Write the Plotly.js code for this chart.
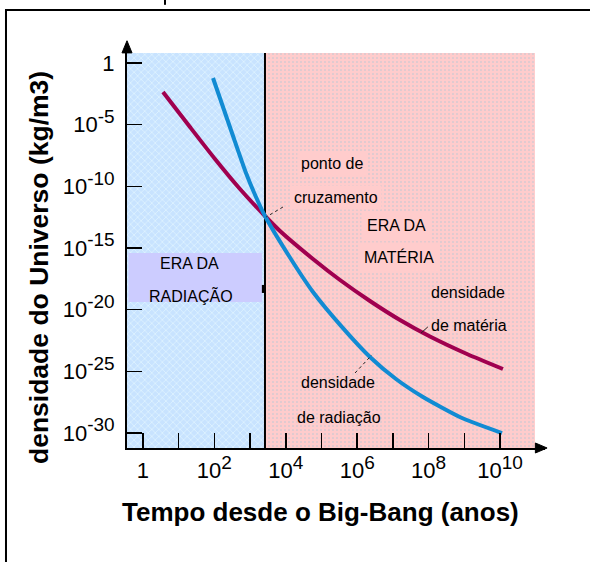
<!DOCTYPE html>
<html>
<head>
<meta charset="utf-8">
<script src="https://cdn.plot.ly/plotly-3.0.1.min.js"></script>
<style>html,body{margin:0;padding:0;background:#fff;}#chart{width:590px;height:562px;}</style>
</head>
<body>
<div id="chart"></div>
<script>
// ---- data ----
var matterTime    = [3.63, 20.7, 104, 521, 2615, 6880, 5.78e4, 3.30e5, 2.28e6, 1.58e7, 1.094e8, 1.19e9, 1.21e10];
var matterDensity = [4.45e-3, 6.45e-6, 1.64e-8, 6.04e-11, 3.90e-13, 2.37e-14, 1.27e-16, 2.52e-18, 4.98e-20, 1.43e-21, 6.57e-23, 2.51e-24, 1.52e-25];
var radTime       = [91.4, 311, 768, 1463, 2615, 1.23e4, 5.78e4, 3.52e5, 2.28e6, 1.22e7, 6.97e7, 8.62e8, 1.14e10];
var radDensity    = [6.07e-2, 2.10e-6, 1.20e-9, 1.36e-11, 3.90e-13, 2.22e-16, 2.67e-19, 4.76e-22, 1.43e-24, 2.35e-26, 8.15e-28, 1.61e-29, 9.8e-31];

var xTickVals  = [1, 1e2, 1e4, 1e6, 1e8, 1e10];
var xMinorVals = [1e1, 1e3, 1e5, 1e7, 1e9];
var xTickText  = ['1', '2', '4', '6', '8', '10'];
var yTickVals  = [1, 1e-5, 1e-10, 1e-15, 1e-20, 1e-25, 1e-30];
var yTickText  = ['1', '-5', '-10', '-15', '-20', '-25', '-30'];

// era boundaries (years / kg m^-3)
var eraBoundary = 2615;
var regionLeft = Math.pow(10, -0.448);
var regionRight = Math.pow(10, 10.98);
var regionTop = Math.pow(10, 0.81);
var regionBottom = Math.pow(10, -31.224);

function powLabel(exp){
  if (exp === '1') return '1';
  return '10<sup><span style="font-size:19px">' + exp + '</span></sup>';
}

var tickFont = {family: 'Liberation Sans Narrow, Arial Narrow, Liberation Sans, sans-serif', size: 22, color: '#000'};
var labelFont = {family: 'Liberation Sans, Arial, sans-serif', size: 16, color: '#000'};
var titleFontY = {family: 'Liberation Sans, Arial, sans-serif', size: 26.5, color: '#000', weight: 'bold'};
var titleFontX = {family: 'Liberation Sans, Arial, sans-serif', size: 26, color: '#000', weight: 'bold'};

var traces = [
  { // radiation era background
    x: [regionLeft, eraBoundary, eraBoundary, regionLeft, regionLeft],
    y: [regionTop, regionTop, regionBottom, regionBottom, regionTop],
    mode: 'lines', line: {width: 0}, fill: 'toself', fillcolor: '#c8e3ff',
    fillpattern: {shape: 'x', bgcolor: '#c8e3ff', fgcolor: '#e2f6ff', size: 5, solidity: 0.25},
    hoverinfo: 'skip', showlegend: false
  },
  { // matter era background
    x: [eraBoundary, regionRight, regionRight, eraBoundary, eraBoundary],
    y: [regionTop, regionTop, regionBottom, regionBottom, regionTop],
    mode: 'lines', line: {width: 0}, fill: 'toself', fillcolor: '#ffcccc',
    fillpattern: {shape: '.', bgcolor: '#ffcccc', fgcolor: '#b8c8d4', size: 4, solidity: 0.12},
    hoverinfo: 'skip', showlegend: false
  },
  { // boundary line
    x: [eraBoundary, eraBoundary], y: [regionTop, regionBottom],
    mode: 'lines', line: {color: '#000', width: 2}, hoverinfo: 'skip', showlegend: false
  },
  {
    name: 'densidade de matéria', x: matterTime, y: matterDensity,
    mode: 'lines', line: {color: '#a0004f', width: 4, shape: 'spline', smoothing: 0.6},
    showlegend: false
  },
  {
    name: 'densidade de radiação', x: radTime, y: radDensity,
    mode: 'lines', line: {color: '#118bd3', width: 4, shape: 'spline', smoothing: 0.6},
    showlegend: false
  }
];

var pinkBg = '#ffcccc';
var annotations = [
  {x: 5.294, y: -8.19, text: 'ponto de', bgcolor: pinkBg, borderpad: 3},
  {x: 5.406, y: -10.87, text: 'cruzamento', bgcolor: pinkBg, borderpad: 3},
  {x: 7.115, y: -13.14, text: 'ERA DA', bgcolor: pinkBg, borderpad: 5},
  {x: 7.171, y: -15.73, text: 'MATÉRIA', bgcolor: pinkBg, borderpad: 5},
  {x: 9.10, y: -18.65, text: 'densidade'},
  {x: 9.13, y: -21.25, text: 'de matéria'},
  {x: 5.46, y: -25.95, text: 'densidade'},
  {x: 5.49, y: -28.71, text: 'de radiação'},
  {x: 1.289, y: -16.22, text: 'ERA DA'},
  {x: 1.345, y: -18.82, text: 'RADIAÇÃO'}
].map(function(a){
  return Object.assign({xref: 'x', yref: 'y', showarrow: false, font: labelFont, xanchor: 'center', yanchor: 'middle'}, a);
});

// axis titles
annotations.push({xref: 'paper', yref: 'paper', x: -0.2105, y: 0.4455, textangle: -90,
  text: 'densidade do Universo (kg/m3)', showarrow: false, font: titleFontY, xanchor: 'center', yanchor: 'middle'});
annotations.push({xref: 'paper', yref: 'paper', x: 0.464, y: -0.158,
  text: 'Tempo desde o Big-Bang (anos)', showarrow: false, font: titleFontX, xanchor: 'center', yanchor: 'middle'});

var shapes = [
  // outer frame
  {type: 'rect', xref: 'paper', yref: 'paper', x0: -0.2895, x1: 1.3, y0: -0.5, y1: 1.084,
   line: {color: '#000', width: 2}, fillcolor: 'rgba(0,0,0,0)', layer: 'above'},
  // descender of cut-off title letter
  {type: 'line', xref: 'paper', yref: 'paper', x0: 0.0909, x1: 0.0909, y0: 1.097, y1: 1.12,
   line: {color: '#000', width: 2}},
  // axis arrowheads
  {type: 'path', xref: 'paper', yref: 'paper', path: 'M 0 1.008 L -0.012 0.978 L 0.012 0.978 Z',
   fillcolor: '#000', line: {color: '#000', width: 1}, layer: 'above'},
  {type: 'path', xref: 'paper', yref: 'paper', path: 'M 1.005 0 L 0.977 0.0124 L 0.977 -0.0124 Z',
   fillcolor: '#000', line: {color: '#000', width: 1}, layer: 'above'},
  // radiation-era label box
  {type: 'rect', xref: 'x', yref: 'y', x0: Math.pow(10, -0.406), x1: Math.pow(10, 3.333),
   y0: Math.pow(10, -19.38), y1: Math.pow(10, -15.41), fillcolor: '#ccccff', line: {width: 0}, layer: 'above'},
  // small mark on boundary
  {type: 'rect', xref: 'x', yref: 'y', x0: Math.pow(10, 3.33), x1: Math.pow(10, 3.40),
   y0: Math.pow(10, -18.65), y1: Math.pow(10, -18.0), fillcolor: '#000', line: {width: 0}, layer: 'above'},
  // leader lines
  {type: 'line', xref: 'x', yref: 'y', x0: Math.pow(10, 3.92), y0: Math.pow(10, -11.68),
   x1: Math.pow(10, 3.45), y1: Math.pow(10, -12.49), line: {color: '#222', width: 1, dash: 'dot'}, layer: 'above'},
  {type: 'line', xref: 'x', yref: 'y', x0: Math.pow(10, 7.79), y0: Math.pow(10, -21.9),
   x1: Math.pow(10, 7.98), y1: Math.pow(10, -21.4), line: {color: '#222', width: 1}, layer: 'above'},
  {type: 'line', xref: 'x', yref: 'y', x0: Math.pow(10, 5.94), y0: Math.pow(10, -25.14),
   x1: Math.pow(10, 6.41), y1: Math.pow(10, -23.68), line: {color: '#222', width: 1, dash: 'dot'}, layer: 'above'}
];

var layout = {
  width: 590, height: 562,
  margin: {l: 127, r: 45, t: 44, b: 114, pad: 0},
  paper_bgcolor: '#fff', plot_bgcolor: '#fff',
  font: {family: 'Liberation Sans, Arial, sans-serif', color: '#000'},
  showlegend: false,
  xaxis: {
    type: 'log', range: [-0.448, 11.261], showgrid: false, zeroline: false,
    showline: true, linecolor: '#000', linewidth: 2,
    ticks: 'inside', ticklen: 15, tickwidth: 1.5, tickcolor: '#000',
    tickmode: 'array', tickvals: xTickVals, ticktext: xTickText.map(powLabel), tickfont: tickFont,
    ticklabelstandoff: 2,
    minor: {tickmode: 'array', tickvals: xMinorVals, ticks: 'inside', ticklen: 15, tickwidth: 1.5, tickcolor: '#000', showgrid: false}
  },
  yaxis: {
    type: 'log', range: [-31.224, 1.541], showgrid: false, zeroline: false,
    showline: true, linecolor: '#000', linewidth: 2,
    ticks: 'inside', ticklen: 15, tickwidth: 1.5, tickcolor: '#000',
    tickmode: 'array', tickvals: yTickVals, ticktext: yTickText.map(powLabel), tickfont: tickFont,
    ticklabelstandoff: 6
  },
  shapes: shapes,
  annotations: annotations
};

Plotly.newPlot('chart', traces, layout, {staticPlot: true, displayModeBar: false});
</script>
</body>
</html>
